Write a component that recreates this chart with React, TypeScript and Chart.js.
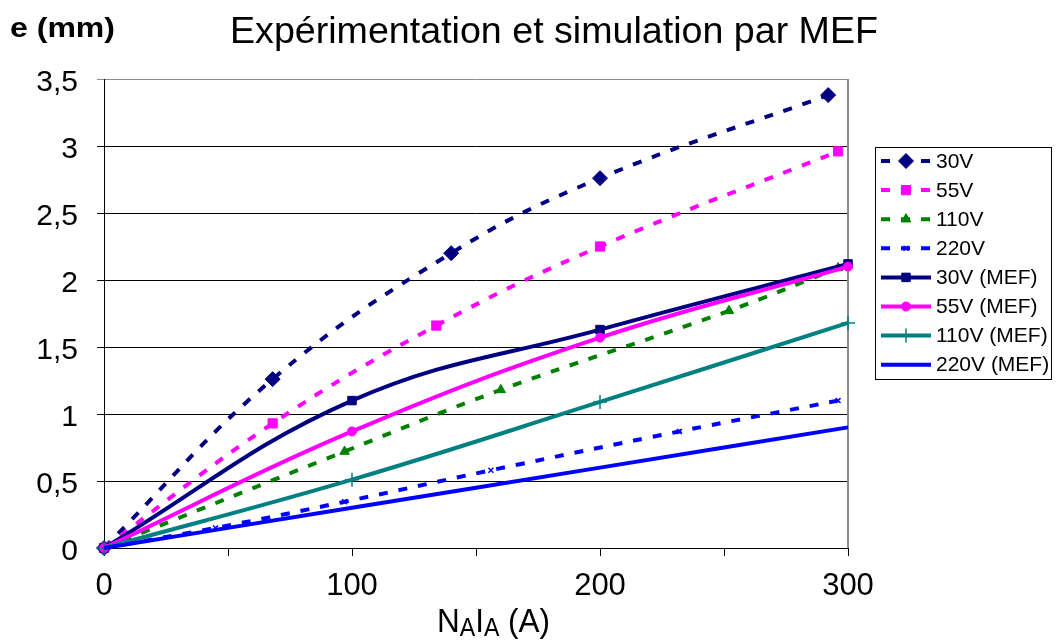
import React, { useEffect, useRef } from 'react';
import { Chart, registerables } from 'chart.js';
import { drawPoint } from 'chart.js/helpers';

Chart.register(...registerables);

const FONT = '"Liberation Sans", Arial, Helvetica, sans-serif';

// ---- data ----
const seriesNames = ['30V', '55V', '110V', '220V', '30V (MEF)', '55V (MEF)', '110V (MEF)', '220V (MEF)'];

const x30Exp = [0, 68, 140, 200, 292];
const y30Exp = [0, 1.26, 2.2, 2.76, 3.38];
const x55Exp = [0, 68, 134, 200, 296];
const y55Exp = [0, 0.93, 1.66, 2.25, 2.96];
const x110Exp = [0, 97, 160, 252, 296];
const y110Exp = [0, 0.72, 1.18, 1.77, 2.09];
const x220Exp = [0, 45, 97, 156, 232, 296];
const y220Exp = [0, 0.15, 0.345, 0.58, 0.87, 1.1];

const xMef = [0, 100, 200, 300];
const y30Mef = [0, 1.1, 1.63, 2.12];
const y55Mef = [0, 0.87, 1.57, 2.1];
const y110Mef = [0, 0.51, 1.09, 1.68];
const y220Mef = [0, 0.3, 0.6, 0.9];

const xMajorTicks = [0, 100, 200, 300];
const yTickLabels = ['0', '0,5', '1', '1,5', '2', '2,5', '3', '3,5'];

const titleText = 'Expérimentation et simulation par MEF';
const yTitleText = 'e (mm)';

// ---- styles ----
const DASH = [9, 11];
const seriesStyles: any[] = [
  { color: '#000080', dashed: true, pointStyle: 'rectRot', radius: 7.5, bw: 1 },
  { color: '#FF00FF', dashed: true, pointStyle: 'rect', radius: 6.5, bw: 1 },
  { color: '#008000', dashed: true, pointStyle: 'triangle', radius: 5.5, bw: 1 },
  { color: '#0000FF', dashed: true, pointStyle: 'crossRot', radius: 3.5, bw: 1.5 },
  { color: '#000080', dashed: false, pointStyle: 'rect', radius: 6, bw: 1 },
  { color: '#FF00FF', dashed: false, pointStyle: 'circle', radius: 4.5, bw: 1 },
  { color: '#008080', dashed: false, pointStyle: 'cross', radius: 7, bw: 1.5 },
  { color: '#0000FF', dashed: false, pointStyle: false, radius: 0, bw: 0 },
];

const pts = (xs: number[], ys: number[]) => xs.map((x, i) => ({ x, y: ys[i] }));
const seriesData = [
  pts(x30Exp, y30Exp),
  pts(x55Exp, y55Exp),
  pts(x110Exp, y110Exp),
  pts(x220Exp, y220Exp),
  pts(xMef, y30Mef),
  pts(xMef, y55Mef),
  pts(xMef, y110Mef),
  pts(xMef, y220Mef),
];

function fitText(ctx: CanvasRenderingContext2D, text: string, x: number, y: number, font: string, width: number, align: 'left' | 'center') {
  ctx.save();
  ctx.font = font;
  ctx.fillStyle = '#000';
  ctx.textBaseline = 'alphabetic';
  ctx.textAlign = 'left';
  const w = ctx.measureText(text).width;
  const s = width / w;
  const left = align === 'center' ? x - width / 2 : x;
  ctx.translate(left, y);
  ctx.scale(s, 1);
  ctx.fillText(text, 0, 0);
  ctx.restore();
}

const decor = {
  id: 'decor',
  beforeDatasetsDraw(chart: any) {
    const { ctx, chartArea: a } = chart;
    ctx.save();
    ctx.strokeStyle = '#8c8c8c';
    ctx.lineWidth = 2;
    ctx.beginPath();
    ctx.moveTo(a.right, a.top);
    ctx.lineTo(a.right, a.bottom);
    ctx.stroke();
    ctx.restore();
  },
  afterDraw(chart: any) {
    const ctx: CanvasRenderingContext2D = chart.ctx;
    fitText(ctx, titleText, 554, 43, `37px ${FONT}`, 648, 'center');
    fitText(ctx, yTitleText, 10, 37, `bold 28px ${FONT}`, 105, 'left');

    // x axis title with subscripts: N_A I_A (A)
    const parts: [string, boolean][] = [['N', false], ['A', true], ['I', false], ['A', true], [' (A)', false]];
    const big = `34px ${FONT}`;
    const small = `25px ${FONT}`;
    ctx.save();
    let total = 0;
    const widths = parts.map(([t, sub]) => {
      ctx.font = sub ? small : big;
      const w = ctx.measureText(t).width;
      total += w;
      return w;
    });
    const s = 113 / total;
    ctx.translate(437, 632);
    ctx.scale(s, 1);
    ctx.fillStyle = '#000';
    ctx.textBaseline = 'alphabetic';
    ctx.textAlign = 'left';
    let cx = 0;
    parts.forEach(([t, sub], i) => {
      ctx.font = sub ? small : big;
      ctx.fillText(t, cx, sub ? 4 : 0);
      cx += widths[i];
    });
    ctx.restore();

    // legend
    ctx.save();
    ctx.strokeStyle = '#000';
    ctx.lineWidth = 1;
    ctx.strokeRect(875.5, 147.5, 176, 232);
    chart.data.datasets.forEach((ds: any, i: number) => {
      const st = seriesStyles[i];
      const y = 161 + i * 29.1;
      ctx.save();
      ctx.strokeStyle = st.color;
      ctx.lineWidth = 4;
      ctx.setLineDash(st.dashed ? DASH : []);
      ctx.beginPath();
      ctx.moveTo(881, y);
      ctx.lineTo(931, y);
      ctx.stroke();
      ctx.restore();
      if (st.pointStyle) {
        ctx.save();
        ctx.fillStyle = st.color;
        ctx.strokeStyle = st.color;
        ctx.lineWidth = st.bw;
        drawPoint(ctx, { pointStyle: st.pointStyle, rotation: 0, radius: st.radius, borderWidth: st.bw } as any, 906, y);
        ctx.restore();
      }
      ctx.fillStyle = '#000';
      ctx.font = `21px ${FONT}`;
      ctx.textBaseline = 'middle';
      ctx.textAlign = 'left';
      ctx.fillText(ds.label, 936, y + 1);
    });
    ctx.restore();
  },
};

export default function App() {
  const ref = useRef<HTMLCanvasElement>(null);
  useEffect(() => {
    document.body.style.margin = '0';
    const canvas = ref.current!;
    const chart = new Chart(canvas, {
      type: 'line',
      data: {
        datasets: seriesData.map((data, i) => {
          const st = seriesStyles[i];
          return {
            label: seriesNames[i],
            data,
            borderColor: st.color,
            backgroundColor: st.color,
            borderWidth: 4,
            borderDash: st.dashed ? DASH : [],
            borderCapStyle: 'butt',
            tension: 0.4,
            fill: false,
            pointStyle: st.pointStyle,
            pointRadius: st.radius,
            pointBackgroundColor: st.color,
            pointBorderColor: st.color,
            pointBorderWidth: st.bw,
            order: 8 - i,
            clip: false,
          } as any;
        }),
      },
      options: {
        responsive: false,
        animation: false,
        devicePixelRatio: 1,
        layout: { padding: { top: 79, right: 210, left: 0, bottom: 0 } },
        plugins: {
          legend: { display: false },
          title: { display: false },
          tooltip: { enabled: false },
        },
        scales: {
          x: {
            type: 'linear',
            min: 0,
            max: 300,
            afterFit: (scale: any) => { scale.height = 96; },
            ticks: {
              stepSize: 50,
              autoSkip: false,
              maxRotation: 0,
              padding: 12,
              color: '#000',
              font: { family: FONT, size: 31 },
              callback: (v: any) => (xMajorTicks.includes(Number(v)) ? String(v) : ''),
            },
            grid: { drawOnChartArea: false, drawTicks: true, tickLength: 8, color: '#000', lineWidth: 1 },
            border: { display: true, color: '#000', width: 1 },
          },
          y: {
            type: 'linear',
            min: 0,
            max: 3.5,
            afterFit: (scale: any) => { scale.width = 104; },
            ticks: {
              stepSize: 0.5,
              padding: 19,
              labelOffset: 4,
              color: '#000',
              font: { family: FONT, size: 30 },
              callback: (_v: any, i: number) => yTickLabels[i],
            },
            grid: {
              drawTicks: true,
              tickLength: 7,
              lineWidth: 1,
              color: (c: any) => (c.tick && c.tick.value === 3.5 ? '#8c8c8c' : '#000'),
            },
            border: { display: true, color: '#000', width: 1 },
          },
        },
      },
      plugins: [decor],
    } as any);
    return () => chart.destroy();
  }, []);
  return (
    <div style={{ position: 'absolute', left: 0, top: 0, width: 1058, height: 644, background: '#fff' }}>
      <canvas ref={ref} width={1058} height={644} />
    </div>
  );
}
